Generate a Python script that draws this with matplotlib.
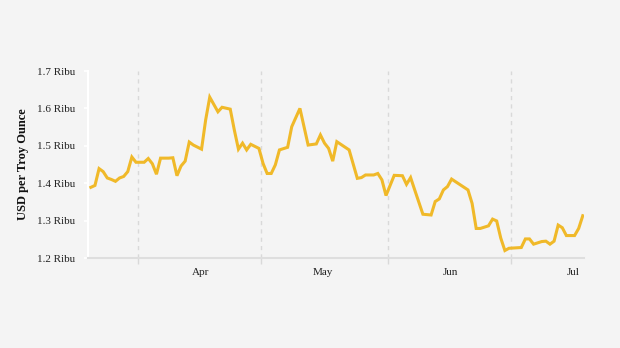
import matplotlib
matplotlib.use("Agg")
import matplotlib.pyplot as plt
import matplotlib.dates as mdates
from matplotlib.ticker import FixedLocator
import numpy as np

# ---- data ----
dates = [
    "2023-03-20", "2023-03-21", "2023-03-22", "2023-03-23", "2023-03-24", "2023-03-25",
    "2023-03-26", "2023-03-27", "2023-03-28", "2023-03-29", "2023-03-30", "2023-03-31",
    "2023-04-01", "2023-04-02", "2023-04-03", "2023-04-04", "2023-04-05", "2023-04-06",
    "2023-04-08", "2023-04-09", "2023-04-10", "2023-04-11", "2023-04-12", "2023-04-13",
    "2023-04-14", "2023-04-16", "2023-04-17", "2023-04-18", "2023-04-20", "2023-04-21",
    "2023-04-23", "2023-04-24", "2023-04-25", "2023-04-26", "2023-04-27", "2023-04-28",
    "2023-04-30", "2023-05-01", "2023-05-02", "2023-05-03", "2023-05-04", "2023-05-05",
    "2023-05-07", "2023-05-08", "2023-05-10", "2023-05-12", "2023-05-14", "2023-05-15",
    "2023-05-16", "2023-05-17", "2023-05-18", "2023-05-19", "2023-05-22", "2023-05-24",
    "2023-05-25", "2023-05-26", "2023-05-28", "2023-05-29", "2023-05-30", "2023-05-31",
    "2023-06-02", "2023-06-04", "2023-06-05", "2023-06-06", "2023-06-07", "2023-06-09",
    "2023-06-11", "2023-06-12", "2023-06-13", "2023-06-14", "2023-06-15", "2023-06-16",
    "2023-06-20", "2023-06-21", "2023-06-22", "2023-06-23", "2023-06-25", "2023-06-26",
    "2023-06-27", "2023-06-28", "2023-06-29", "2023-06-30", "2023-07-03", "2023-07-04",
    "2023-07-05", "2023-07-06", "2023-07-08", "2023-07-09", "2023-07-10", "2023-07-11",
    "2023-07-12", "2023-07-13", "2023-07-14", "2023-07-16", "2023-07-17", "2023-07-18",
]
price_usd = [
    1389, 1394, 1439, 1431, 1414, 1410, 1405, 1414, 1418, 1431, 1470, 1456,
    1456, 1456, 1466, 1452, 1424, 1467, 1467, 1468, 1420, 1446, 1459, 1510,
    1502, 1491, 1569, 1630, 1591, 1603, 1598, 1542, 1491, 1507, 1489, 1504,
    1493, 1453, 1426, 1426, 1449, 1489, 1496, 1551, 1600, 1502, 1505, 1529,
    1507, 1493, 1459, 1511, 1489, 1413, 1415, 1422, 1422, 1426, 1409, 1367,
    1421, 1420, 1397, 1415, 1382, 1317, 1315, 1351, 1358, 1382, 1391, 1411,
    1382, 1346, 1279, 1279, 1286, 1304, 1299, 1253, 1220, 1226, 1228, 1251,
    1251, 1237, 1244, 1245, 1237, 1245, 1288, 1281, 1260, 1260, 1279, 1313,
]
month_starts = ["2023-04-01", "2023-05-01", "2023-06-01", "2023-07-01"]
month_labels = ["Apr", "May", "Jun", "Jul"]
y_ticks = [1200, 1300, 1400, 1500, 1600, 1700]
y_label = "USD per Troy Ounce"

# ---- style ----
BG = "#f4f4f4"
LINE = "#f0b929"
plt.rcParams["font.family"] = ["Liberation Serif", "DejaVu Serif"]

fig = plt.figure(figsize=(6.2, 3.48), dpi=100, facecolor=BG)
ax = fig.add_axes([88 / 620, 1 - 258 / 348, (584 - 88) / 620, (258 - 71) / 348])
ax.set_facecolor(BG)

x = mdates.datestr2num(dates)
ms = mdates.datestr2num(month_starts) - 0.5  # boundaries between days

ax.plot(x, price_usd, color=LINE, lw=2.2, solid_joinstyle="miter", zorder=3)

# month boundary grid lines
for g in ms:
    ax.axvline(g, color="#d9d9d9", lw=1.0, ls=(0, (3, 3)), zorder=1)

ax.set_xlim(ms[0] - 12.2, ms[0] + 108.8)
ax.set_ylim(1200, 1700)

ax.set_xticks(list(ms + 15.2))
ax.set_xticklabels(month_labels)
ax.xaxis.set_minor_locator(FixedLocator(list(ms)))
ax.tick_params(axis="x", which="major", length=0, pad=7, labelsize=8, colors="#222222")
ax.tick_params(axis="x", which="minor", length=4, width=1, color="#d9d9d9")

ax.set_yticks(y_ticks)
ax.set_yticklabels([f"{v/1000:.1f} Ribu" for v in y_ticks])
ax.tick_params(axis="y", length=3, width=1.2, pad=6.5, labelsize=8, labelcolor="#222222")
ax.tick_params(axis="y", which="major", color="white")

for s in ["top", "right"]:
    ax.spines[s].set_visible(False)
ax.spines["left"].set_color("white")
ax.spines["left"].set_linewidth(1.5)
ax.spines["bottom"].set_color("#dedede")
ax.spines["bottom"].set_linewidth(1.5)

fig.text(23 / 620, 1 - 164 / 348, y_label, rotation=90, ha="center", va="center",
         fontsize=9, fontweight="bold", color="#111111")

fig.savefig("out.png", dpi=100, facecolor=BG)
